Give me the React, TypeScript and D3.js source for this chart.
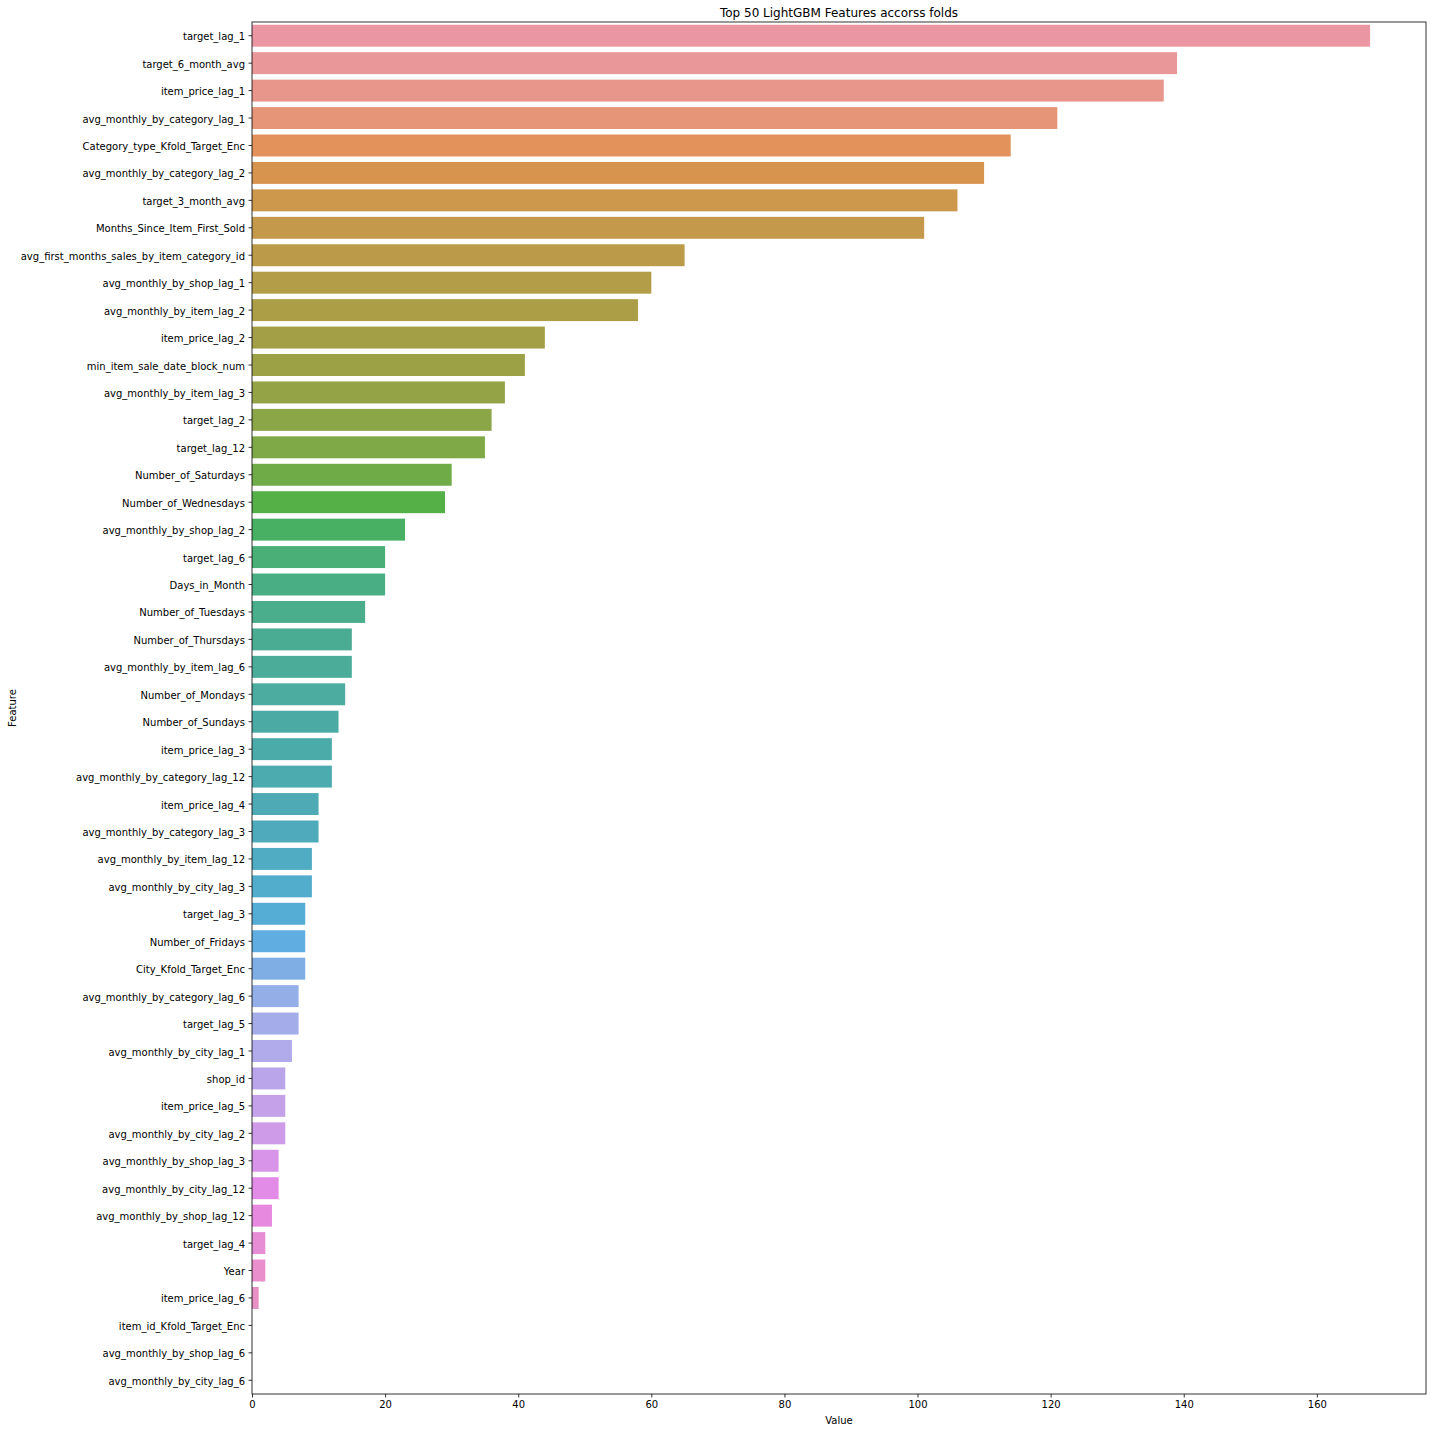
import React, { useEffect, useRef } from "react";
import * as d3 from "d3";

const features = [
  "target_lag_1", "target_6_month_avg", "item_price_lag_1", "avg_monthly_by_category_lag_1",
  "Category_type_Kfold_Target_Enc", "avg_monthly_by_category_lag_2", "target_3_month_avg",
  "Months_Since_Item_First_Sold", "avg_first_months_sales_by_item_category_id",
  "avg_monthly_by_shop_lag_1", "avg_monthly_by_item_lag_2", "item_price_lag_2",
  "min_item_sale_date_block_num", "avg_monthly_by_item_lag_3", "target_lag_2", "target_lag_12",
  "Number_of_Saturdays", "Number_of_Wednesdays", "avg_monthly_by_shop_lag_2", "target_lag_6",
  "Days_in_Month", "Number_of_Tuesdays", "Number_of_Thursdays", "avg_monthly_by_item_lag_6",
  "Number_of_Mondays", "Number_of_Sundays", "item_price_lag_3", "avg_monthly_by_category_lag_12",
  "item_price_lag_4", "avg_monthly_by_category_lag_3", "avg_monthly_by_item_lag_12",
  "avg_monthly_by_city_lag_3", "target_lag_3", "Number_of_Fridays", "City_Kfold_Target_Enc",
  "avg_monthly_by_category_lag_6", "target_lag_5", "avg_monthly_by_city_lag_1", "shop_id",
  "item_price_lag_5", "avg_monthly_by_city_lag_2", "avg_monthly_by_shop_lag_3",
  "avg_monthly_by_city_lag_12", "avg_monthly_by_shop_lag_12", "target_lag_4", "Year",
  "item_price_lag_6", "item_id_Kfold_Target_Enc", "avg_monthly_by_shop_lag_6",
  "avg_monthly_by_city_lag_6",
];

const values = [
  168, 139, 137, 121, 114, 110, 106, 101, 65, 60, 58, 44, 41, 38, 36, 35, 30, 29, 23, 20,
  20, 17, 15, 15, 14, 13, 12, 12, 10, 10, 9, 9, 8, 8, 8, 7, 7, 6, 5, 5, 5, 4, 4, 3, 2, 2,
  1, 0, 0, 0,
];

const xTicks = [0, 20, 40, 60, 80, 100, 120, 140, 160];

// husl -> rgb, same maths as seaborn's husl module
const M = [
  [3.2406, -1.5372, -0.4986],
  [-0.9689, 1.8758, 0.0415],
  [0.0557, -0.204, 1.057],
];
const refU = 0.19784;
const refV = 0.46834;
const labE = 0.008856;
const labK = 903.3;

function maxChroma(L: number, H: number) {
  const hrad = (H / 360) * Math.PI * 2;
  const sinH = Math.sin(hrad);
  const cosH = Math.cos(hrad);
  const sub1 = Math.pow(L + 16, 3) / 1560896;
  const sub2 = sub1 > labE ? sub1 : L / labK;
  let result = Infinity;
  M.forEach(([m1, m2, m3]) => {
    const top = (0.99915 * m1 + 1.05122 * m2 + 1.1446 * m3) * sub2;
    const rbottom = 0.8633 * m3 - 0.17266 * m2;
    const lbottom = 0.12949 * m3 - 0.38848 * m1;
    const bottom = (rbottom * sinH + lbottom * cosH) * sub2;
    [0, 1].forEach((t) => {
      const C = (L * (top - 1.05122 * t)) / (bottom + 0.17266 * sinH * t);
      if (C > 0 && C < result) result = C;
    });
  });
  return result;
}

function huslToRgb(H: number, S: number, L: number) {
  const C = (maxChroma(L, H) / 100) * S;
  const hrad = (H / 360) * Math.PI * 2;
  const U = Math.cos(hrad) * C;
  const V = Math.sin(hrad) * C;
  const varY = L > labK * labE ? Math.pow((L + 16) / 116, 3) : L / labK;
  const varU = U / (13 * L) + refU;
  const varV = V / (13 * L) + refV;
  const Y = varY;
  const X = -(9 * Y * varU) / ((varU - 4) * varV - varU * varV);
  const Z = (9 * Y - 15 * varV * Y - varV * X) / (3 * varV);
  return M.map((row) => {
    const c = row[0] * X + row[1] * Y + row[2] * Z;
    const v = c <= 0.0031308 ? 12.92 * c : 1.055 * Math.pow(c, 1 / 2.4) - 0.055;
    return Math.max(0, Math.min(1, v));
  });
}

const palette = features.map((_, i) => {
  const h = ((i / features.length + 0.01) % 1) * 359;
  const [r, g, b] = huslToRgb(h, 0.9 * 99, 0.7 * 99);
  const c = d3.hsl(d3.rgb(r * 255, g * 255, b * 255));
  c.s *= 0.75; // seaborn saturation
  return c.formatHex();
});

function App() {
  const ref = useRef<SVGSVGElement>(null);

  useEffect(() => {
    const svg = d3.select(ref.current);
    svg.selectAll("*").remove();

    const W = 1432;
    const H = 1432;
    const m = { left: 252, right: 6, top: 22, bottom: 38 };
    const font = "DejaVu Sans, sans-serif";

    const x = d3
      .scaleLinear()
      .domain([0, d3.max(values)! * 1.05])
      .range([m.left, W - m.right]);
    const y = d3
      .scaleBand()
      .domain(features)
      .range([m.top, H - m.bottom])
      .paddingInner(0.2)
      .paddingOuter(0.1);

    svg
      .append("g")
      .selectAll("rect")
      .data(features)
      .enter()
      .append("rect")
      .attr("x", x(0))
      .attr("y", (d) => y(d)!)
      .attr("width", (d, i) => x(values[i]) - x(0))
      .attr("height", y.bandwidth())
      .attr("fill", (d, i) => palette[i]);

    const xAxis = svg
      .append("g")
      .attr("transform", `translate(0,${H - m.bottom})`)
      .call(d3.axisBottom(x).tickValues(xTicks).tickSize(3.5).tickPadding(3.5));
    const yAxis = svg
      .append("g")
      .attr("transform", `translate(${m.left},0)`)
      .call(d3.axisLeft(y).tickSize(3.5).tickPadding(3.5));

    [xAxis, yAxis].forEach((g) => {
      g.select(".domain").remove();
      g.selectAll("line").attr("stroke", "#000").attr("stroke-width", 0.8);
      g.selectAll("text")
        .attr("font-family", font)
        .attr("font-size", 10)
        .attr("fill", "#000");
    });
    yAxis.selectAll("text").attr("dy", "0.45em");

    svg
      .append("rect")
      .attr("x", m.left)
      .attr("y", m.top)
      .attr("width", W - m.right - m.left)
      .attr("height", H - m.bottom - m.top)
      .attr("fill", "none")
      .attr("stroke", "#000")
      .attr("stroke-width", 0.8);

    svg
      .append("text")
      .attr("x", (m.left + W - m.right) / 2)
      .attr("y", 17)
      .attr("text-anchor", "middle")
      .attr("font-family", font)
      .attr("font-size", 12)
      .text("Top 50 LightGBM Features accorss folds");

    svg
      .append("text")
      .attr("x", (m.left + W - m.right) / 2)
      .attr("y", 1424)
      .attr("text-anchor", "middle")
      .attr("font-family", font)
      .attr("font-size", 10)
      .text("Value");

    svg
      .append("text")
      .attr("transform", `translate(16,${(m.top + H - m.bottom) / 2}) rotate(-90)`)
      .attr("text-anchor", "middle")
      .attr("font-family", font)
      .attr("font-size", 10)
      .text("Feature");
  }, []);

  return (
    <svg
      ref={ref}
      width={1432}
      height={1432}
      style={{ position: "absolute", left: 0, top: 0, background: "#fff" }}
    />
  );
}

export default App;
